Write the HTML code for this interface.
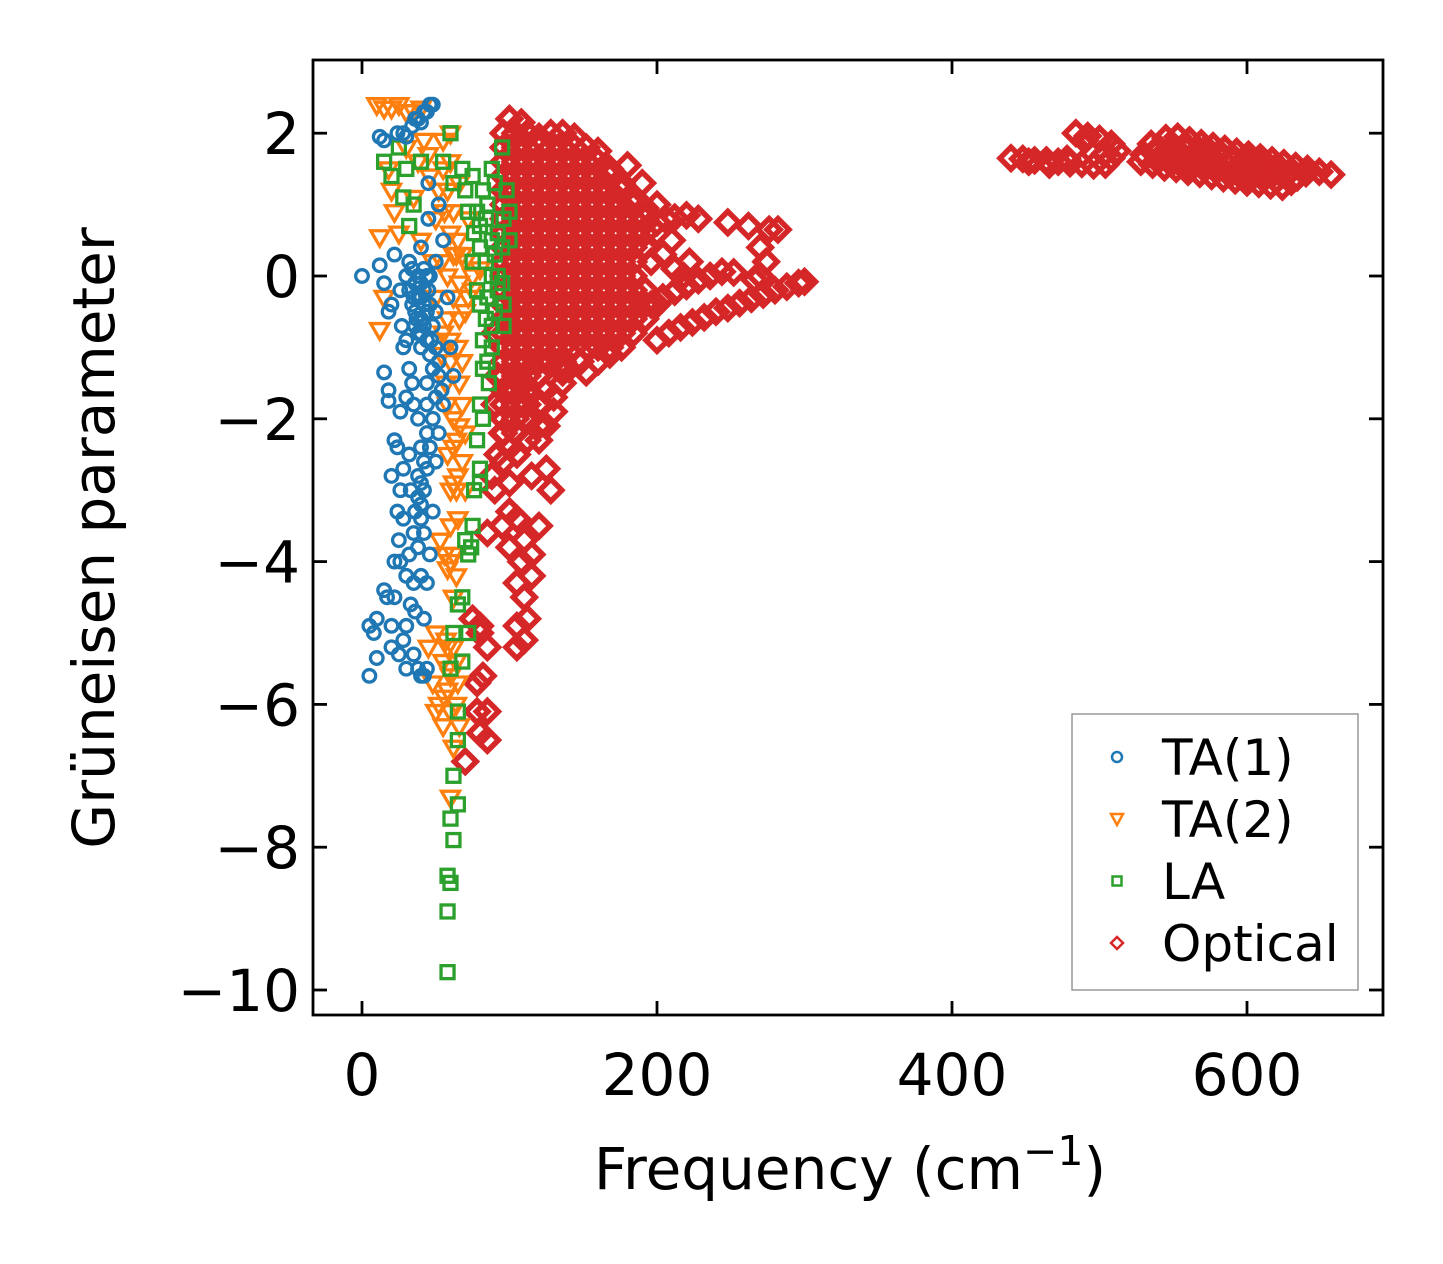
<!DOCTYPE html>
<html><head><meta charset="utf-8">
<style>
html,body{margin:0;padding:0;background:#fff;}
svg{display:block;font-family:"DejaVu Sans","Liberation Sans",sans-serif;}
</style></head>
<body>
<svg id="chart" width="1443" height="1264" viewBox="0 0 1443 1264" xmlns="http://www.w3.org/2000/svg">
<rect x="0" y="0" width="1443" height="1264" fill="#fff"/>
<g id="marks"></g>
<rect x="313" y="60" width="1070" height="955" fill="none" stroke="#000" stroke-width="2.8"/>
<g id="axes"></g>
<text x="850" y="1189" font-size="58" text-anchor="middle">Frequency (cm<tspan dy="-24" font-size="41">−1</tspan><tspan dy="24">)</tspan></text>
<text transform="translate(114,538) rotate(-90)" font-size="58" text-anchor="middle">Grüneisen parameter</text>
<g>
<rect x="1072" y="714" width="286" height="276" fill="#fff" stroke="#999" stroke-width="1.5"/>
<circle cx="1117" cy="757" r="5" fill="none" stroke="#1f77b4" stroke-width="2.5"/>
<text x="1162" y="775" font-size="50">TA(1)</text>
<polygon points="1111,814 1123,814 1117,825" fill="none" stroke="#ff7f0e" stroke-width="2.5"/>
<text x="1162" y="837" font-size="50">TA(2)</text>
<rect x="1112.5" y="876.5" width="9" height="9" fill="none" stroke="#2ca02c" stroke-width="2.5"/>
<text x="1162" y="899" font-size="50">LA</text>
<polygon points="1117,937 1123,943 1117,949 1111,943" fill="none" stroke="#d62728" stroke-width="2.5"/>
<text x="1162" y="961" font-size="50">Optical</text>
</g>
</svg>
<script>
const xTicks = [0, 200, 400, 600];
const yTicks = [2, 0, -2, -4, -6, -8, -10];
const ta1 = [[0,0],[5,-5.6],[5,-4.9],[8,-5],[10,-4.8],[10,-5.35],[12,0.15],[12,1.95],[15,1.9],[15,-0.1],[15,-1.35],[15,-4.4],[17,-4.5],[18,-1.6],[18,-1.75],[18,-0.5],[20,-0.4],[20,-2.8],[20,-5.2],[22,0.3],[22,-2.3],[22,-4.0],[24,2.0],[25,-3.7],[25,-5.3],[26,-0.2],[27,-0.7],[28,-1],[28,-2.7],[28,-3.4],[30,-1.7],[30,-4.2],[30,-5.5],[32,0.2],[32,-1.3],[32,-2.5],[33,-3],[34,2.1],[35,-0.3],[35,-1.8],[35,-3.6],[36,-4.7],[37,-0.6],[38,-2.0],[38,-2.8],[38,2.2],[40,0.4],[40,-0.1],[40,-1.0],[40,-3.2],[40,-5.6],[42,2.3],[42,-0.4],[42,-4.8],[44,-1.5],[44,-2.2],[45,0.8],[45,1.3],[45,-0.2],[46,2.4],[47,-0.9],[48,-1.3],[48,-3.3],[50,0.2],[50,-0.5],[52,1.0],[52,-1.4],[55,0.5],[55,-1.8],[58,-0.3],[60,-1.0],[62,-1.4],
[30,0.0],[32,-0.2],[34,-0.4],[36,-0.1],[38,-0.3],[40,-0.6],[42,-0.2],[44,0.0],[46,-0.4],[48,-0.7],[34,0.1],[38,0.0],[42,0.1],[46,0.0],[36,-0.7],[40,-0.8],[44,-0.9],[50,-1.0],[52,-1.2],[54,-1.6],[50,-1.7],[48,-2.0],[46,-2.4],[44,-2.7],[42,-3.0],[40,-3.4],[38,-3.8],[35,-4.3],[33,-4.6],[30,-4.9],[28,-5.1],[35,-5.3],[38,-5.5],[42,-5.6],[44,-4.3],[46,-3.9],[50,-2.6],[52,-2.2],[36,2.2],[40,2.15],[44,2.3],[28,2.0],[30,1.95],[48,2.4],[30,-0.9],[34,-1.5],[26,-1.9],[24,-2.4],[26,-3.0],[24,-3.3],[22,-4.5],[20,-4.9],[26,-4.0],[32,-3.9],[36,-3.3],[40,-2.4],
[36,-0.5],[40,-0.3],[44,-0.5],[38,-0.8],[42,-0.7],[46,-1.1],[44,-1.8],[42,-2.6],[40,-2.9],[38,-3.1],[42,-3.6],[40,-4.2],[44,-5.5]];
const ta2 = [[10,2.4],[15,2.35],[20,2.35],[25,2.4],[30,2.3],[12,0.55],[12,-0.75],[15,-0.3],[18,1.5],[20,1.2],[22,0.9],[25,0.6],[30,1.8],[35,1.1],[40,0.5],[45,1.7],[48,0.2],[50,-0.3],[50,-5.0],[52,-6.0],[53,-3.7],[55,-5.4],[55,1.5],[55,-0.8],[57,-1.5],[58,-2.5],[58,-5.8],[60,-4.0],[60,-3.0],[60,-7.3],[62,-6.6],[62,0.9],[62,-2.0],[64,-4.2],[65,-1.0],[65,-2.8],[65,-5.7],[66,-6.3],[68,0.3],[68,-1.8],[70,-2.2],[70,-3.0],[70,-0.5],[72,0.8],[75,0.0],[75,-0.2],[80,0.1],[45,-5.2],[48,-5.7],[50,-6.1],[55,-6.3],[58,-4.1],[62,-4.5],[65,-3.4],[55,1.9],[60,1.6],[65,0.5],[58,-0.6],[60,-1.2],
[52,1.2],[56,0.9],[60,0.6],[64,0.3],[54,0.2],[58,0.0],[62,-0.3],[66,-0.6],[54,-1.1],[58,-1.8],[62,-2.4],[66,-2.1],[68,-2.6],[64,-3.0],[60,-3.5],[58,-5.2],[60,-5.6],[62,-5.2],[56,-5.9],[60,-6.1],[64,-6.0],[57,-5.1],[68,-1.2],[50,0.8],[46,1.4],[42,1.9],[38,1.6],[35,2.3],[40,2.35],[60,2.0],[66,1.3],[70,0.2],[72,-0.3],[56,-3.9],[62,-3.9],
[58,1.2],[62,0.3],[66,-1.5],[64,-2.3],[62,-2.9],[66,-0.1],[60,-0.9],[64,-5.4],[58,-5.5]];
const la = [[15,1.6],[20,1.4],[25,1.8],[30,1.5],[28,1.1],[32,0.7],[35,1.0],[40,1.6],[55,1.6],[60,2.0],[62,1.3],[68,1.5],[70,1.2],[75,1.4],[78,0.9],[80,0.7],[82,1.2],[85,1.0],[88,0.5],[90,0.3],[92,0.0],[95,0.4],[95,1.8],[98,1.2],[100,0.9],[85,-0.3],[88,-0.7],[82,-0.9],[85,-1.2],[80,-1.8],[78,-2.3],[80,-2.7],[80,-2.9],[75,-3.5],[72,-3.9],[70,-3.7],[65,-4.6],[68,-4.5],[62,-5.0],[68,-5.4],[65,-6.1],[65,-6.5],[62,-7.0],[65,-7.4],[60,-7.6],[62,-7.9],[58,-8.4],[60,-8.5],[58,-8.9],[58,-9.75],[72,-5.0],[60,-5.5],[75,0.2],[78,-0.2],[90,-0.5],[95,-0.1],[100,0.5],
[80,0.4],[84,0.2],[88,0.0],[92,-0.2],[96,-0.4],[80,-0.4],[84,-0.6],[88,-1.0],[92,0.6],[96,0.8],[84,0.8],[76,0.6],[72,0.9],[86,-1.5],[82,-2.0],[76,-3.0],[74,-3.8],[82,-1.3],[90,1.3],[88,1.5],[96,-0.7]];
const optical = [[100,2.2],[108,2.15],
[96,2.0],[104,2.0],[112,2.0],[120,1.95],[128,2.0],[136,2.0],[144,1.95],
[96,1.8],[104,1.8],[112,1.8],[120,1.8],[128,1.8],[136,1.8],[144,1.8],[152,1.8],[160,1.75],
[96,1.6],[104,1.6],[112,1.6],[120,1.6],[128,1.6],[136,1.6],[144,1.6],[152,1.6],[160,1.6],[168,1.5],
[96,1.4],[104,1.4],[112,1.4],[120,1.4],[128,1.4],[136,1.4],[144,1.4],[152,1.4],[160,1.4],[168,1.4],[176,1.3],
[96,1.2],[104,1.2],[112,1.2],[120,1.2],[128,1.2],[136,1.2],[144,1.2],[152,1.2],[160,1.2],[168,1.2],[176,1.2],[184,1.1],
[96,1.0],[104,1.0],[112,1.0],[120,1.0],[128,1.0],[136,1.0],[144,1.0],[152,1.0],[160,1.0],[168,1.0],[176,1.0],[184,1.0],[192,0.95],
[96,0.8],[104,0.8],[112,0.8],[120,0.8],[128,0.8],[136,0.8],[144,0.8],[152,0.8],[160,0.8],[168,0.8],[176,0.8],[184,0.8],[192,0.8],[200,0.75],
[96,0.6],[104,0.6],[112,0.6],[120,0.6],[128,0.6],[136,0.6],[144,0.6],[152,0.6],[160,0.6],[168,0.6],[176,0.6],[184,0.6],[192,0.6],[200,0.6],
[96,0.4],[104,0.4],[112,0.4],[120,0.4],[128,0.4],[136,0.4],[144,0.4],[152,0.4],[160,0.4],[168,0.4],[176,0.4],[184,0.4],[192,0.4],
[96,0.2],[104,0.2],[112,0.2],[120,0.2],[128,0.2],[136,0.2],[144,0.2],[152,0.2],[160,0.2],[168,0.2],[176,0.2],[184,0.2],
[96,0.0],[104,0.0],[112,0.0],[120,0.0],[128,0.0],[136,0.0],[144,0.0],[152,0.0],[160,0.0],[168,0.0],[176,0.0],[184,0.0],
[96,-0.2],[104,-0.2],[112,-0.2],[120,-0.2],[128,-0.2],[136,-0.2],[144,-0.2],[152,-0.2],[160,-0.2],[168,-0.2],[176,-0.2],[184,-0.2],[192,-0.2],
[96,-0.4],[104,-0.4],[112,-0.4],[120,-0.4],[128,-0.4],[136,-0.4],[144,-0.4],[152,-0.4],[160,-0.4],[168,-0.4],[176,-0.4],[184,-0.4],[192,-0.4],[200,-0.4],
[96,-0.6],[104,-0.6],[112,-0.6],[120,-0.6],[128,-0.6],[136,-0.6],[144,-0.6],[152,-0.6],[160,-0.6],[168,-0.6],[176,-0.6],[184,-0.6],[192,-0.6],
[96,-0.8],[104,-0.8],[112,-0.8],[120,-0.8],[128,-0.8],[136,-0.8],[144,-0.8],[152,-0.8],[160,-0.8],[168,-0.8],[176,-0.8],[184,-0.8],
[96,-1.0],[104,-1.0],[112,-1.0],[120,-1.0],[128,-1.0],[136,-1.0],[144,-1.0],[152,-1.0],[160,-1.0],[168,-1.0],[176,-1.0],
[96,-1.2],[104,-1.2],[112,-1.2],[120,-1.2],[128,-1.2],[136,-1.2],[148,-1.2],[160,-1.2],[168,-1.1],
[96,-1.4],[104,-1.4],[112,-1.4],[120,-1.4],[136,-1.35],[152,-1.35],
[96,-1.6],[104,-1.6],[112,-1.6],[124,-1.6],[136,-1.5],
[96,-1.8],[104,-1.8],[112,-1.8],[122,-1.8],
[96,-2.0],[104,-2.0],[112,-2.0],[120,-2.1],
[96,-2.2],[104,-2.2],[112,-2.3],[100,-2.4],[96,-2.6],
[200,-0.9],[208,-0.8],[216,-0.72],[224,-0.65],[232,-0.58],[240,-0.5],[248,-0.45],[256,-0.38],[264,-0.32],[272,-0.26],[280,-0.2],[288,-0.15],[296,-0.1],[300,-0.08],
[196,-0.4],[204,-0.3],[212,-0.22],[220,-0.14],[228,-0.06],[236,0.0],[244,0.06],[252,0.05],
[196,0.2],[204,0.3],[210,0.5],[206,0.8],[212,0.82],[220,0.85],[228,0.8],[248,0.75],[262,0.7],[276,0.65],[282,0.65],[270,0.4],[274,0.2],[270,0.0],[266,-0.05],[222,0.2],[218,0.0],[212,0.1],[180,1.55],[190,1.3],[200,1.0],
[110,-2.0],[120,-2.3],[125,-2.1],[105,-2.5],[100,-2.9],[115,-2.8],[125,-2.7],[128,-3.0],[95,-3.5],[105,-3.4],[110,-3.7],[115,-3.9],[120,-3.5],[100,-3.8],[85,-3.6],[105,-4.3],[110,-4.5],[115,-4.2],[105,-4.9],[110,-5.1],[105,-5.2],[75,-4.8],[80,-5.0],[85,-5.2],[78,-5.7],[82,-5.6],[85,-6.1],[80,-6.4],[85,-6.5],[70,-6.8],[90,-1.8],[95,-2.2],[100,-1.6],[110,-1.5],[120,-1.8],[130,-1.7],[135,-1.3],[125,-1.2],[90,-3.0],[88,-2.8],[92,-2.5],[100,-3.3],[108,-4.0],[112,-4.8],[80,-4.9],[78,-6.1],[92,-1.4],[90,-0.8],[140,-1.3],[130,-1.9],
[440,1.65],[448,1.64],[456,1.62],[464,1.62],[472,1.6],[480,1.58],[488,1.57],[496,1.55],[504,1.56],[484,2.0],[492,1.96],[500,1.92],[508,1.85],[512,1.75],[508,1.65],[490,1.9],[504,1.72],[478,1.64],[466,1.56],[452,1.6],
[535,1.85],[545,1.93],[553,1.95],[561,1.9],[569,1.86],[577,1.82],[585,1.78],[593,1.74],[601,1.7],[609,1.66],[617,1.62],[625,1.58],[633,1.54],[641,1.5],[649,1.46],[657,1.42],
[530,1.7],[538,1.72],[546,1.72],[554,1.7],[562,1.66],[570,1.62],[578,1.6],[586,1.57],[594,1.54],[602,1.5],[610,1.47],[618,1.44],[626,1.41],[634,1.38],
[528,1.6],[536,1.56],[544,1.52],[552,1.5],[560,1.46],[568,1.43],[576,1.4],[584,1.37],[592,1.34],[600,1.31],[608,1.29],[616,1.27],[624,1.25],
[540,1.8],[550,1.82],[560,1.78],[570,1.74],[580,1.7],[590,1.66],[600,1.62],[610,1.58],[620,1.53],[630,1.48],[640,1.44],
[540,1.62],[550,1.6],[560,1.56],[570,1.52],[580,1.49],[590,1.45],[600,1.41],[610,1.38],[620,1.34],[630,1.32]];

const NS = "http://www.w3.org/2000/svg";
const sx = f => 362 + f * 1.475;
const sy = g => 276 - g * 71.4;
const marks = document.getElementById('marks');
const axes = document.getElementById('axes');
function mk(tag, attrs, parent){
  const el = document.createElementNS(NS, tag);
  for (const k in attrs) el.setAttribute(k, attrs[k]);
  parent.appendChild(el);
  return el;
}
optical.forEach(([f,g]) => {
  const x = sx(f), y = sy(g), h = 11;
  const el = mk('polygon', {points:`${x},${y-h} ${x+h},${y} ${x},${y+h} ${x-h},${y}`, fill:'none', stroke:'#d62728', 'stroke-width':5.5}, marks);
  
  
});
ta2.forEach(([f,g]) => {
  const x = sx(f), y = sy(g);
  const el = mk('polygon', {points:`${x-9},${y-6} ${x+9},${y-6} ${x},${y+9.5}`, fill:'none', stroke:'#ff7f0e', 'stroke-width':3.3}, marks);
  
  
});
la.forEach(([f,g]) => {
  const x = sx(f), y = sy(g);
  const el = mk('rect', {x:x-6.5, y:y-6.5, width:13, height:13, fill:'none', stroke:'#2ca02c', 'stroke-width':3.3}, marks);
  
  
});
ta1.forEach(([f,g]) => {
  const el = mk('circle', {cx:sx(f), cy:sy(g), r:6.3, fill:'none', stroke:'#1f77b4', 'stroke-width':3.3}, marks);
  
  
});
xTicks.forEach(v => {
  const x = sx(v);
  const t1 = mk('line', {x1:x, y1:1015, x2:x, y2:1001, stroke:'#000', 'stroke-width':2.8}, axes);
  
  
  const t2 = mk('line', {x1:x, y1:60, x2:x, y2:74, stroke:'#000', 'stroke-width':2.8}, axes);
  
  
  const lb = mk('text', {x:x, y:1095, 'font-size':58, 'text-anchor':'middle'}, axes);
  lb.textContent = String(v);
  
  
});
yTicks.forEach(v => {
  const y = sy(v);
  const t1 = mk('line', {x1:313, y1:y, x2:327, y2:y, stroke:'#000', 'stroke-width':2.8}, axes);
  
  
  const t2 = mk('line', {x1:1383, y1:y, x2:1369, y2:y, stroke:'#000', 'stroke-width':2.8}, axes);
  
  
  const lb = mk('text', {x:300, y:y+21, 'font-size':58, 'text-anchor':'end'}, axes);
  lb.textContent = v < 0 ? '\u2212' + Math.abs(v) : String(v);
  
  
});
</script>
</body></html>
